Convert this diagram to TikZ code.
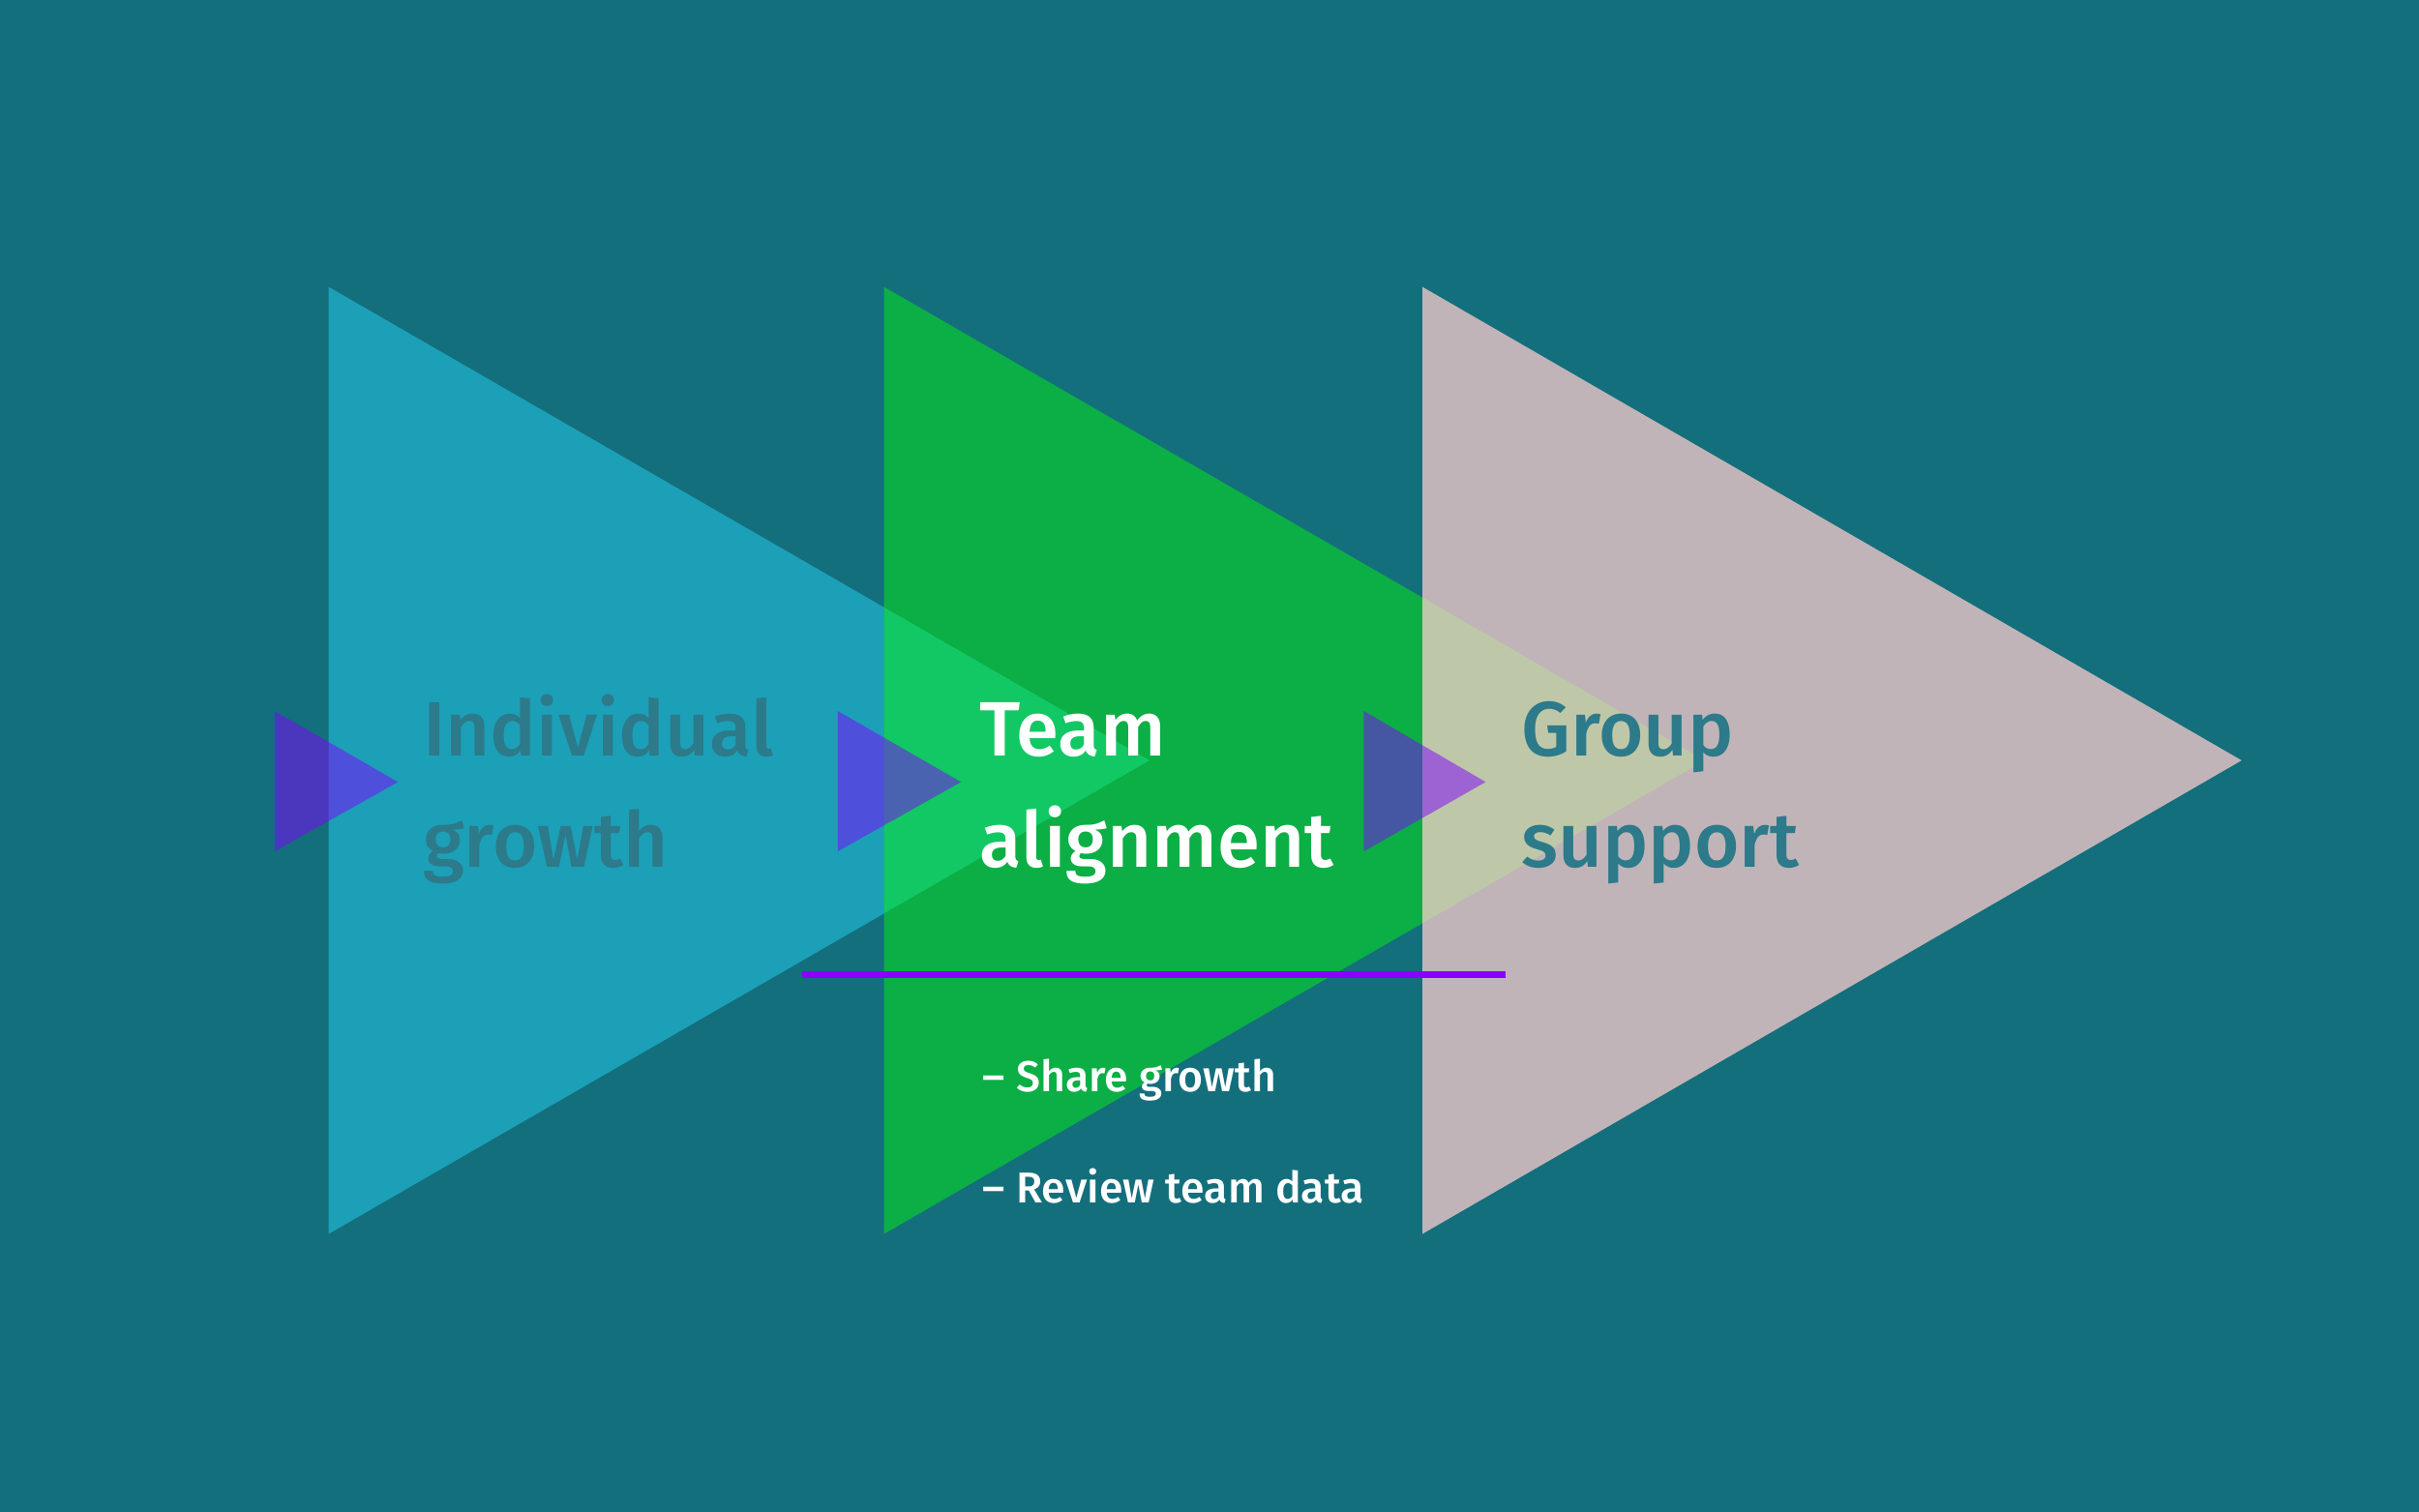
\documentclass[tikz,border=0pt]{standalone}
\usepackage{fontspec}
\setmainfont{Fira Sans Medium}
\begin{document}
\begin{tikzpicture}[x=1pt,y=-1pt,
  big/.style={font=\fontsize{50}{60}\selectfont,anchor=base west,inner sep=0},
  small/.style={font=\fontsize{28}{34}\selectfont,anchor=base west,inner sep=0,text=white},
  pointer/.style={fill={rgb,255:red,128;green,0;blue,255},fill opacity=0.5}]
\definecolor{bg}{HTML}{146F7C}
\definecolor{cy}{HTML}{1CA0B8}
\definecolor{gr}{HTML}{0BAF45}
\definecolor{gy}{HTML}{C0B4B8}
\definecolor{cygr}{HTML}{12C864}
\definecolor{grgy}{HTML}{BEC8A8}
\definecolor{dtxt}{HTML}{2C7A8A}
\fill[bg] (0,0) rectangle (1568,980);
\useasboundingbox (0,0) rectangle (1568,980);
\fill[cy] (213,186) -- (213,800) -- (745,493) -- cycle;
\fill[gr] (573,186) -- (573,800) -- (1105,493) -- cycle;
\fill[gy] (922,186) -- (922,800) -- (1453,493) -- cycle;
\begin{scope}
\clip (213,186) -- (213,800) -- (745,493) -- cycle;
\fill[cygr] (573,186) -- (573,800) -- (1105,493) -- cycle;
\end{scope}
\begin{scope}
\clip (573,186) -- (573,800) -- (1105,493) -- cycle;
\fill[grgy] (922,186) -- (922,800) -- (1453,493) -- cycle;
\end{scope}
\fill[pointer] (178,461) -- (178,552) -- (258,507) -- cycle;
\fill[pointer] (543,461) -- (543,552) -- (623,507) -- cycle;
\fill[pointer] (884,461) -- (884,552) -- (963,507) -- cycle;
\node[big,text=dtxt] (a1) at (274,490) {Individual};
\node[big,text=dtxt] (a2) at (274,562) {growth};
\node[big,text=white] (b1) at (635,490) {Team};
\node[big,text=white] (b2) at (635,562) {alignment};
\node[big,text=dtxt] (c1) at (986,490) {Group};
\node[big,text=dtxt] (c2) at (986,562) {support};
\coordinate (l1) at (520,632);
\coordinate (l2) at (976,632);
\draw[line width=4,color={rgb,255:red,138;green,0;blue,255}] (l1) -- (l2);
\node[small] (s1) at (637,708) {-- Share growth};
\node[small] (s2) at (637,780) {-- Review team data};
\end{tikzpicture}
\end{document}
